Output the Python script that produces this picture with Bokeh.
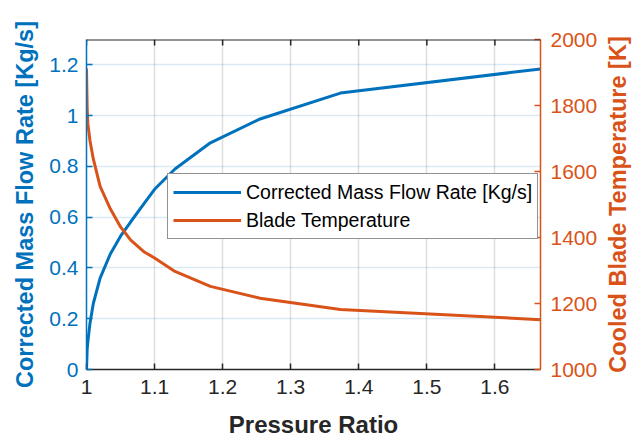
import math
from bokeh.plotting import figure
from bokeh.layouts import row
from bokeh.models import Range1d, LinearAxis, FixedTicker, Legend, LegendItem, Span
from bokeh.embed import file_html
from bokeh.resources import INLINE

# data
pressure_ratio = [1.000, 1.001, 1.002, 1.005, 1.010, 1.020, 1.035, 1.050, 1.065,
                  1.085, 1.100, 1.130, 1.182, 1.255, 1.373, 1.667]
mass_flow = [0.0, 0.08, 0.11, 0.18, 0.26, 0.36, 0.455, 0.525, 0.582,
             0.655, 0.71, 0.79, 0.893, 0.987, 1.089, 1.184]
blade_temp = [1912, 1790, 1745, 1695, 1638, 1555, 1487, 1432, 1392,
              1356, 1338, 1297, 1252, 1216, 1182, 1151]

x_ticks = [1.0, 1.1, 1.2, 1.3, 1.4, 1.5, 1.6]
x_tick_labels = ["1", "1.1", "1.2", "1.3", "1.4", "1.5", "1.6"]
y_ticks = [0, 0.2, 0.4, 0.6, 0.8, 1.0, 1.2]
y_tick_labels = ["0", "0.2", "0.4", "0.6", "0.8", "1", "1.2"]
t_ticks = [1000, 1200, 1400, 1600, 1800, 2000]

X_MIN, X_MAX = 1.0, 1.667
Y_MIN, Y_MAX = 0.0, 1.3
T_MIN, T_MAX = 1000, 2000

BLUE = "#0072BD"
ORANGE = "#D95319"
DARK = "#262626"
FONT = "Liberation Sans"

p = figure(width=600, height=440, output_backend="svg", toolbar_location=None,
           x_range=Range1d(X_MIN, X_MAX), y_range=Range1d(Y_MIN, Y_MAX),
           min_border_left=86, min_border_right=60, min_border_top=39,
           min_border_bottom=69)
p.outline_line_color = None
p.extra_y_ranges = {"temp": Range1d(T_MIN, T_MAX)}

# grids
p.xgrid.ticker = FixedTicker(ticks=x_ticks)
p.xgrid.grid_line_color = DARK
p.xgrid.grid_line_alpha = 0.15
p.xgrid.grid_line_width = 1.5
p.ygrid.ticker = FixedTicker(ticks=y_ticks)
p.ygrid.grid_line_color = BLUE
p.ygrid.grid_line_alpha = 0.15
p.ygrid.grid_line_width = 1.5

# top box edge with inward ticks
p.add_layout(Span(location=Y_MAX, dimension="width", line_color=DARK, line_width=2))
p.ray(x=x_ticks, y=[Y_MAX] * len(x_ticks), length=6, length_units="screen",
      angle=-math.pi / 2, line_color=DARK, line_width=1.5)

# lines
l1 = p.line(pressure_ratio, mass_flow, line_color=BLUE, line_width=3)
l2 = p.line(pressure_ratio, blade_temp, line_color=ORANGE, line_width=3,
            y_range_name="temp")

def style(ax, color, ticks, overrides=None):
    ax.ticker = FixedTicker(ticks=ticks)
    if overrides:
        ax.major_label_overrides = overrides
    ax.axis_line_color = color
    ax.axis_line_width = 1.5
    ax.major_tick_line_color = color
    ax.major_tick_line_width = 1.5
    ax.major_tick_in = 6
    ax.major_tick_out = 0
    ax.minor_tick_line_color = None
    ax.major_label_text_color = color
    ax.major_label_text_font = FONT
    ax.major_label_text_font_size = "21px"
    ax.axis_label_text_color = color
    ax.axis_label_text_font = FONT
    ax.axis_label_text_font_style = "bold"
    ax.axis_label_text_font_size = "23.5px"

# bottom axis
xa = p.xaxis[0]
style(xa, DARK, x_ticks, dict(zip(x_ticks, x_tick_labels)))
xa.axis_label = "Pressure Ratio"
xa.major_label_standoff = 10
xa.axis_label_standoff = 14
xa.axis_label_text_font_size = "24px"

# left axis
ya = p.yaxis[0]
style(ya, BLUE, y_ticks, dict(zip(y_ticks, y_tick_labels)))
ya.axis_label = "Corrected Mass Flow Rate [Kg/s]"
ya.major_label_standoff = 8
ya.axis_label_standoff = 8

# right axis (ticks and tick labels)
ra = LinearAxis(y_range_name="temp")
style(ra, ORANGE, t_ticks)
ra.major_label_standoff = 10
p.add_layout(ra, "right")

legend = Legend(items=[
    LegendItem(label="Corrected Mass Flow Rate [Kg/s]", renderers=[l1]),
    LegendItem(label="Blade Temperature", renderers=[l2]),
], location=(81, 130))
legend.label_text_font = FONT
legend.label_text_font_size = "19.5px"
legend.label_text_color = "#000000"
legend.glyph_width = 68
legend.glyph_height = 26
legend.label_height = 26
legend.label_standoff = 5
legend.spacing = 2
legend.padding = 5
legend.margin = 0
legend.border_line_color = DARK
legend.border_line_width = 1.5
legend.background_fill_color = "white"
legend.background_fill_alpha = 1.0
p.add_layout(legend, "center")

# narrow companion figure carrying the right-axis title (reads bottom-to-top)
q = figure(width=34, height=440, output_backend="svg", toolbar_location=None,
           x_range=Range1d(0, 1), y_range=Range1d(T_MIN, T_MAX),
           min_border_left=30, min_border_right=0, min_border_top=39,
           min_border_bottom=69)
q.outline_line_color = None
q.xaxis.visible = False
q.xgrid.visible = False
q.ygrid.visible = False
qa = q.yaxis[0]
qa.ticker = FixedTicker(ticks=[])
qa.axis_line_color = None
qa.major_tick_line_color = None
qa.minor_tick_line_color = None
qa.major_tick_in = 0
qa.major_tick_out = 0
qa.major_label_standoff = 0
qa.axis_label = "Cooled Blade Temperature [K]"
qa.axis_label_standoff = 0
qa.axis_label_text_color = ORANGE
qa.axis_label_text_font = FONT
qa.axis_label_text_font_style = "bold"
qa.axis_label_text_font_size = "23.5px"

layout = row(p, q, spacing=0)

open("out.html", "w").write(file_html(layout, INLINE))
